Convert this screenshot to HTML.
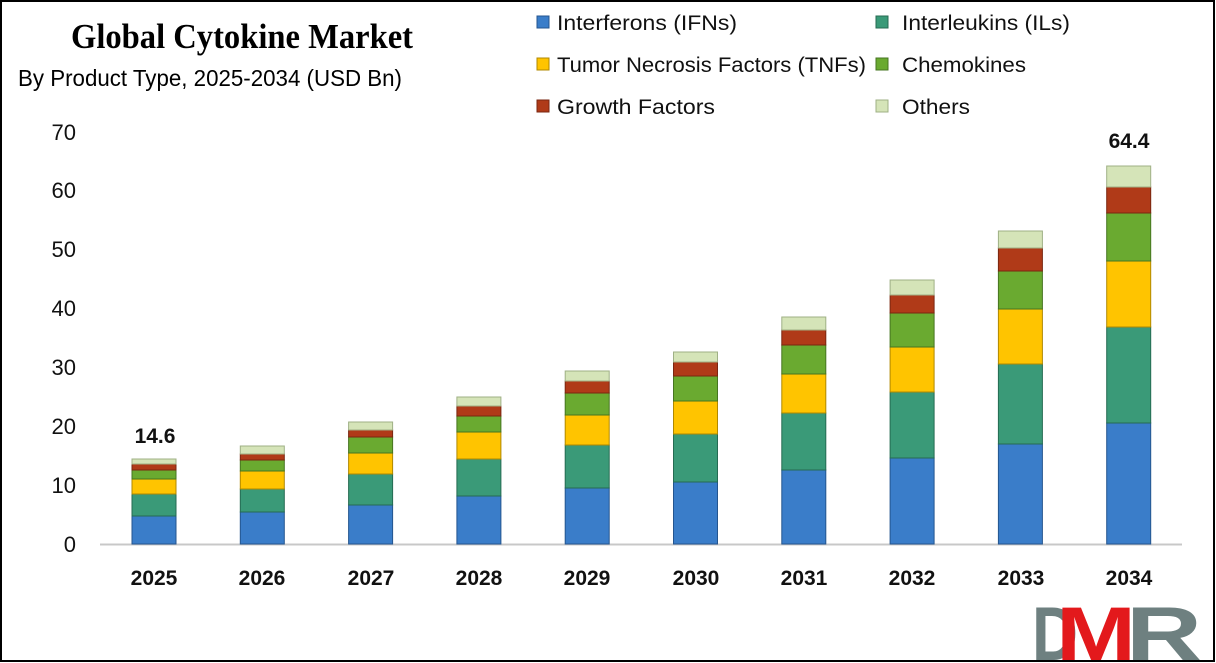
<!DOCTYPE html>
<html><head><meta charset="utf-8"><style>
html,body{margin:0;padding:0;background:#fff;}
svg{display:block;font-family:"Liberation Sans",sans-serif;}
.a{fill:#3a7dc9;stroke:#24558f}.b{fill:#3a9a78;stroke:#256b52}.c{fill:#ffc400;stroke:#b08800}
.d{fill:#6aaa30;stroke:#467520}.e{fill:#b03a18;stroke:#7a2610}.f{fill:#d5e4b8;stroke:#9fb085}
</style></head><body>
<svg width="1216" height="663" viewBox="0 0 1216 663" xmlns="http://www.w3.org/2000/svg">
<rect x="1" y="1" width="1213" height="660" fill="#fff" stroke="#000" stroke-width="2"/>
<text x="242" y="48" text-anchor="middle" font-family="Liberation Serif,serif" font-weight="bold" font-size="35" textLength="342" lengthAdjust="spacingAndGlyphs">Global Cytokine Market</text>
<text x="18" y="86" font-size="23" textLength="384" lengthAdjust="spacingAndGlyphs">By Product Type, 2025-2034 (USD Bn)</text>
<g font-size="21" fill="#111">
<rect x="537" y="16" width="12" height="12" class="a"/><text x="557" y="30" textLength="180" lengthAdjust="spacingAndGlyphs">Interferons (IFNs)</text>
<rect x="876" y="16" width="12" height="12" class="b"/><text x="902" y="30" textLength="168" lengthAdjust="spacingAndGlyphs">Interleukins (ILs)</text>
<rect x="537" y="58" width="12" height="12" class="c"/><text x="557" y="72" textLength="309" lengthAdjust="spacingAndGlyphs">Tumor Necrosis Factors (TNFs)</text>
<rect x="876" y="58" width="12" height="12" class="d"/><text x="902" y="72" textLength="124" lengthAdjust="spacingAndGlyphs">Chemokines</text>
<rect x="537" y="100" width="12" height="12" class="e"/><text x="557" y="114" textLength="158" lengthAdjust="spacingAndGlyphs">Growth Factors</text>
<rect x="876" y="100" width="12" height="12" class="f"/><text x="902" y="114" textLength="68" lengthAdjust="spacingAndGlyphs">Others</text>
</g>
<g font-size="22" fill="#111" text-anchor="end">
<text x="76" y="552">0</text><text x="76" y="493">10</text><text x="76" y="434">20</text><text x="76" y="375">30</text><text x="76" y="316">40</text><text x="76" y="257">50</text><text x="76" y="198">60</text><text x="76" y="140">70</text>
</g>
<line x1="100" y1="544.5" x2="1182" y2="544.5" stroke="#c8c8c8" stroke-width="2"/>
<g>
<rect x="132" y="516" width="44" height="28" class="a"/><rect x="132" y="494" width="44" height="22" class="b"/><rect x="132" y="479" width="44" height="15" class="c"/><rect x="132" y="470" width="44" height="9" class="d"/><rect x="132" y="464" width="44" height="6" class="e"/><rect x="132" y="459" width="44" height="5" class="f"/>
<rect x="240.3" y="512" width="44" height="32" class="a"/><rect x="240.3" y="489" width="44" height="23" class="b"/><rect x="240.3" y="471" width="44" height="18" class="c"/><rect x="240.3" y="460" width="44" height="11" class="d"/><rect x="240.3" y="454" width="44" height="6" class="e"/><rect x="240.3" y="446" width="44" height="8" class="f"/>
<rect x="348.6" y="505" width="44" height="39" class="a"/><rect x="348.6" y="474" width="44" height="31" class="b"/><rect x="348.6" y="453" width="44" height="21" class="c"/><rect x="348.6" y="437" width="44" height="16" class="d"/><rect x="348.6" y="430" width="44" height="7" class="e"/><rect x="348.6" y="422" width="44" height="8" class="f"/>
<rect x="456.9" y="496" width="44" height="48" class="a"/><rect x="456.9" y="459" width="44" height="37" class="b"/><rect x="456.9" y="432" width="44" height="27" class="c"/><rect x="456.9" y="416" width="44" height="16" class="d"/><rect x="456.9" y="406" width="44" height="10" class="e"/><rect x="456.9" y="397" width="44" height="9" class="f"/>
<rect x="565.2" y="488" width="44" height="56" class="a"/><rect x="565.2" y="445" width="44" height="43" class="b"/><rect x="565.2" y="415" width="44" height="30" class="c"/><rect x="565.2" y="393" width="44" height="22" class="d"/><rect x="565.2" y="381" width="44" height="12" class="e"/><rect x="565.2" y="371" width="44" height="10" class="f"/>
<rect x="673.5" y="482" width="44" height="62" class="a"/><rect x="673.5" y="434" width="44" height="48" class="b"/><rect x="673.5" y="401" width="44" height="33" class="c"/><rect x="673.5" y="376" width="44" height="25" class="d"/><rect x="673.5" y="362" width="44" height="14" class="e"/><rect x="673.5" y="352" width="44" height="10" class="f"/>
<rect x="781.8" y="470" width="44" height="74" class="a"/><rect x="781.8" y="413" width="44" height="57" class="b"/><rect x="781.8" y="374" width="44" height="39" class="c"/><rect x="781.8" y="345" width="44" height="29" class="d"/><rect x="781.8" y="330" width="44" height="15" class="e"/><rect x="781.8" y="317" width="44" height="13" class="f"/>
<rect x="890.1" y="458" width="44" height="86" class="a"/><rect x="890.1" y="392" width="44" height="66" class="b"/><rect x="890.1" y="347" width="44" height="45" class="c"/><rect x="890.1" y="313" width="44" height="34" class="d"/><rect x="890.1" y="295" width="44" height="18" class="e"/><rect x="890.1" y="280" width="44" height="15" class="f"/>
<rect x="998.4" y="444" width="44" height="100" class="a"/><rect x="998.4" y="364" width="44" height="80" class="b"/><rect x="998.4" y="309" width="44" height="55" class="c"/><rect x="998.4" y="271" width="44" height="38" class="d"/><rect x="998.4" y="248" width="44" height="23" class="e"/><rect x="998.4" y="231" width="44" height="17" class="f"/>
<rect x="1106.7" y="423" width="44" height="121" class="a"/><rect x="1106.7" y="327" width="44" height="96" class="b"/><rect x="1106.7" y="261" width="44" height="66" class="c"/><rect x="1106.7" y="213" width="44" height="48" class="d"/><rect x="1106.7" y="187" width="44" height="26" class="e"/><rect x="1106.7" y="166" width="44" height="21" class="f"/>
</g>
<g font-size="21" font-weight="bold" text-anchor="middle" fill="#111">
<text x="154" y="585">2025</text><text x="262" y="585">2026</text><text x="371" y="585">2027</text><text x="479" y="585">2028</text><text x="587" y="585">2029</text><text x="696" y="585">2030</text><text x="804" y="585">2031</text><text x="912" y="585">2032</text><text x="1021" y="585">2033</text><text x="1129" y="585">2034</text>
<text x="155" y="443">14.6</text><text x="1129" y="148">64.4</text>
</g>
<g font-weight="bold" font-size="76">
<text x="1032" y="660" fill="#6e8080" textLength="46" lengthAdjust="spacingAndGlyphs">D</text>
<text x="1126" y="660" fill="#6e8080" textLength="76" lengthAdjust="spacingAndGlyphs">R</text>
<text x="1056" y="660" fill="#e3191c" textLength="80" lengthAdjust="spacingAndGlyphs">M</text>
</g>
</svg>
</body></html>
